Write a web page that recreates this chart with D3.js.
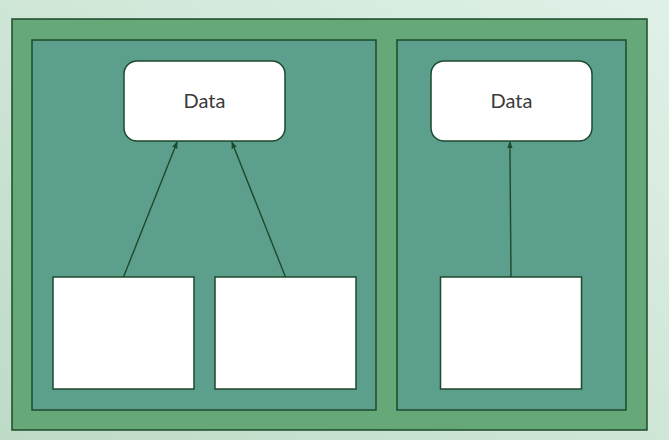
<!DOCTYPE html>
<html>
<head>
<meta charset="utf-8">
<script src="https://cdn.jsdelivr.net/npm/d3@7"></script>
<style>
  html, body { margin: 0; padding: 0; background: #cfe6d8; }
  svg { display: block; }
</style>
</head>
<body>
<svg id="chart" width="669" height="440"></svg>
<script>
// structure of the diagram
const panels = ["left", "right"];
const parents = [
  { panel: "left", label: "Data" },
  { panel: "right", label: "Data" }
];
const children = [
  { panel: "left", id: "a" },
  { panel: "left", id: "b" },
  { panel: "right", id: "c" }
];
const links = [
  { source: "a", target: "left" },
  { source: "b", target: "left" },
  { source: "c", target: "right" }
];

const svg = d3.select("#chart"),
  width = 669,
  height = 440;

const stroke = "#1d4a2c";

// background wash
const defs = svg.append("defs");
const grad = defs.append("linearGradient")
  .attr("id", "bg")
  .attr("x1", "0%").attr("y1", "100%")
  .attr("x2", "100%").attr("y2", "0%");
grad.append("stop").attr("offset", "0%").attr("stop-color", "#bddbc6");
grad.append("stop").attr("offset", "100%").attr("stop-color", "#e0f1e7");

svg.append("rect")
  .attr("width", width)
  .attr("height", height)
  .attr("fill", "url(#bg)");

// outer frame
svg.append("rect")
  .attr("x", 12).attr("y", 19)
  .attr("width", 635).attr("height", 411)
  .attr("fill", "#66a877")
  .attr("stroke", stroke)
  .attr("stroke-width", 1.5);

// panel columns
const panelX = d3.scaleOrdinal().domain(panels).range([32, 397]);
const panelW = d3.scaleOrdinal().domain(panels).range([344, 229]);
const y = d3.scaleLinear().domain([0, 1]).range([40, 410]);

svg.append("g")
  .selectAll("rect")
  .data(panels)
  .enter()
  .append("rect")
  .attr("x", d => panelX(d))
  .attr("y", y(0))
  .attr("width", d => panelW(d))
  .attr("height", y(1) - y(0))
  .attr("fill", "#5c9f8d")
  .attr("stroke", stroke)
  .attr("stroke-width", 1.5);

// parent ("Data") boxes, centred at the top of each panel
const parentW = 161, parentH = 80, parentTop = 61;
const parentCx = d3.scaleOrdinal().domain(panels).range([204.5, 511.5]);

// child boxes spread inside their panel
const childW = 141, childH = 112, childTop = 277, childGap = 21;
const childX = {};
panels.forEach(p => {
  const kids = children.filter(c => c.panel === p);
  const span = kids.length * childW + (kids.length - 1) * childGap;
  const start = (p === "left" ? 204.5 : 511) - span / 2;
  const band = d3.scaleBand()
    .domain(kids.map(k => k.id))
    .range([start, start + span + childGap])
    .paddingInner(0);
  kids.forEach(k => childX[k.id] = band(k.id));
});

// arrows from child up to parent
defs.append("marker")
  .attr("id", "arrow")
  .attr("viewBox", "0 0 10 10")
  .attr("refX", 9).attr("refY", 5)
  .attr("markerWidth", 5).attr("markerHeight", 5)
  .attr("orient", "auto")
  .append("path")
  .attr("d", "M0,1L10,5L0,9z")
  .attr("fill", stroke);

// where each arrow meets the parent box, as a share of its width
const tgtShare = { a: 0.33, b: 0.67, c: 0.49 };

svg.append("g")
  .selectAll("line")
  .data(links)
  .enter()
  .append("line")
  .attr("x1", d => childX[d.source] + childW / 2)
  .attr("y1", childTop)
  .attr("x2", d => parentCx(d.target) - parentW / 2 + parentW * tgtShare[d.source])
  .attr("y2", parentTop + parentH + 1)
  .attr("stroke", stroke)
  .attr("stroke-width", 1.4)
  .attr("marker-end", "url(#arrow)");

svg.append("g")
  .selectAll("rect")
  .data(children)
  .enter()
  .append("rect")
  .attr("x", d => childX[d.id])
  .attr("y", childTop)
  .attr("width", childW)
  .attr("height", childH)
  .attr("fill", "#ffffff")
  .attr("stroke", stroke)
  .attr("stroke-width", 1.5);

const pg = svg.append("g")
  .selectAll("g")
  .data(parents)
  .enter()
  .append("g")
  .attr("transform", d => `translate(${parentCx(d.panel) - parentW / 2},${parentTop})`);

pg.append("rect")
  .attr("width", parentW)
  .attr("height", parentH)
  .attr("rx", 13)
  .attr("fill", "#ffffff")
  .attr("stroke", stroke)
  .attr("stroke-width", 1.5);

pg.append("text")
  .attr("x", parentW / 2)
  .attr("y", parentH / 2)
  .attr("dy", "0.35em")
  .attr("text-anchor", "middle")
  .attr("font-family", "Lato, 'Noto Sans', sans-serif")
  .attr("font-size", 20)
  .attr("fill", "#3a3a3a")
  .text(d => d.label);
</script>
</body>
</html>
